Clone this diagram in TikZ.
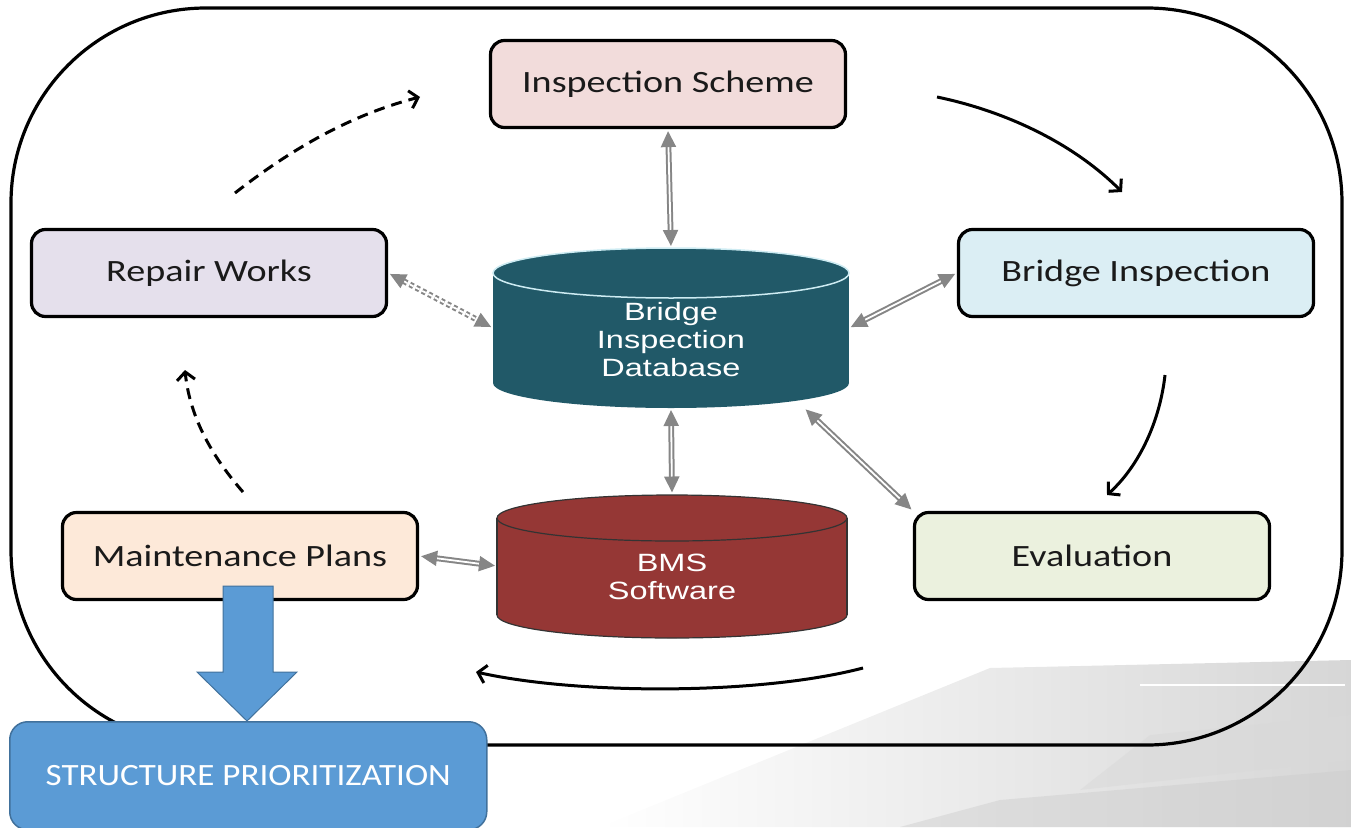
\documentclass[tikz,border=0pt]{standalone}
\usepackage{fontspec}
\usepackage{graphicx}
\setmainfont{Carlito}
\newfontfamily\arialf{Liberation Sans}
\usetikzlibrary{arrows.meta}
\definecolor{isfill}{HTML}{F2DCDB}
\definecolor{rwfill}{HTML}{E5E0EC}
\definecolor{bifill}{HTML}{DBEEF4}
\definecolor{mpfill}{HTML}{FDE9D9}
\definecolor{evfill}{HTML}{EBF1DE}
\definecolor{dbcol}{HTML}{215968}
\definecolor{dbedge}{HTML}{CDEBF2}
\definecolor{bmscol}{HTML}{953735}
\definecolor{linkgray}{HTML}{868686}
\definecolor{spblue}{HTML}{5B9BD5}
\definecolor{spedge}{HTML}{41719C}
\definecolor{txt}{HTML}{1A1A1A}
\newcommand{\bx}[1]{\scalebox{1.23}[1]{#1}}
\newcommand{\ax}[1]{\scalebox{1.3}[1]{#1}}
\newcommand{\spx}[1]{\scalebox{1.13}[1]{#1}}
\tikzset{
  box/.style={draw=black, line width=3.2pt, rounded corners=14pt, minimum width=355pt,
    minimum height=87pt, inner sep=0pt, text=txt, font=\fontsize{31}{37}\selectfont},
  anchorbox/.style={minimum width=#1, inner sep=0pt, outer sep=0pt},
  cyltext/.style={text=white, align=center, inner sep=0pt, font=\arialf\fontsize{25}{28}\selectfont},
  link/.style={draw=linkgray, double=white, double distance=1.8pt, line width=2pt,
    {Triangle[length=16pt,width=15pt]}-{Triangle[length=16pt,width=15pt]},
    shorten <=2pt, shorten >=2pt},
  flow/.style={line width=3pt, -{Straight Barb[length=8pt,width=18pt]}},
  dflow/.style={flow, dash pattern=on 11pt off 7pt},
}
\begin{document}
\begin{tikzpicture}[x=1pt,y=-1pt]
\useasboundingbox (0,0) rectangle (1351,827);
% faint bridge photograph in the background
\shade[left color=white, right color=gray!32] (990,668) -- (1351,660) -- (1351,827) -- (600,827) -- cycle;
\fill[gray!30, opacity=0.5] (1150,735) -- (1351,715) -- (1351,760) -- (1080,790) -- cycle;
\fill[gray!40, opacity=0.45] (1000,800) -- (1351,770) -- (1351,827) -- (900,827) -- cycle;
\draw[white, line width=1.2pt] (1140,685) -- (1345,685);
% frame
\draw[line width=3.2pt, rounded corners=195pt] (11,8) rectangle (1342,745);
% boxes
\node[box, fill=isfill] (is) at (668,84) {\bx{Inspection Scheme}};
\node[box, fill=rwfill] (rw) at (209,273) {\bx{Repair Works}};
\node[box, fill=bifill] (bi) at (1136,273) {\bx{Bridge Inspection}};
\node[box, fill=mpfill] (mp) at (240,556) {\bx{Maintenance Plans}};
\node[box, fill=evfill] (ev) at (1092,556) {\bx{Evaluation}};
% database cylinder
\fill[dbcol] (671,383) ellipse [x radius=178, y radius=25];
\fill[dbcol] (493,273) rectangle (849,383);
\filldraw[fill=dbcol, draw=dbedge, line width=1.5pt] (671,273) ellipse [x radius=178, y radius=25];
\node[anchorbox=356pt, minimum height=160pt] (db) at (671,328) {};
\node[cyltext] (dbt) at (671,340) {\ax{Bridge}\\\ax{Inspection}\\\ax{Database}};
% BMS cylinder
\filldraw[fill=bmscol, draw=black!80, line width=1.2pt] (672,615) ellipse [x radius=175, y radius=23];
\fill[bmscol] (497,518) rectangle (847,615);
\draw[black!80, line width=1.2pt] (497,518) -- (497,615) (847,518) -- (847,615);
\filldraw[fill=bmscol, draw=black!80, line width=1.2pt] (672,518) ellipse [x radius=175, y radius=23];
\node[anchorbox=350pt, minimum height=143pt] (bms) at (672,566) {};
\node[cyltext] (bmst) at (672,577) {\ax{BMS}\\\ax{Software}};
% gray links
\draw[link] (is.south) -- (db.north);
\draw[link, dash pattern=on 4pt off 3pt] (rw.east) -- (db.west);
\draw[link] (bi.west) -- (db.east);
\draw[link] (db.south) -- (bms.north);
\draw[link] (db.-31) -- (ev.north west);
\draw[link] (mp.east) -- (bms.west);
% cycle arrows
\coordinate (a1) at (235,193); \coordinate (a2) at (420,97);
\coordinate (b1) at (937,97);  \coordinate (b2) at (1122,192);
\coordinate (c1) at (1165,375); \coordinate (c2) at (1107,495);
\coordinate (d1) at (863,668); \coordinate (d2) at (476,672);
\coordinate (e1) at (243,492); \coordinate (e2) at (185,370);
\draw[dflow] (a1) .. controls (290,150) and (350,115) .. (a2);
\draw[flow] (b1) .. controls (1000,110) and (1070,140) .. (b2);
\draw[flow] (c1) .. controls (1160,420) and (1140,465) .. (c2);
\draw[flow] (d1) .. controls (760,695) and (580,695) .. (d2);
\draw[dflow] (e1) .. controls (215,460) and (190,420) .. (e2);
% structure prioritization
\node[draw=spedge, fill=spblue, line width=1.5pt, rounded corners=18pt, minimum width=477pt,
  minimum height=108pt, inner sep=0pt, anchor=north west, text=white,
  font=\fontsize{31}{37}\selectfont] (sp) at (9,721) {\spx{STRUCTURE PRIORITIZATION}};
\filldraw[fill=spblue, draw=spedge, line width=1pt] (223,586) -- (273,586) -- (273,672) -- (297,672)
  -- (sp.north -| 247,0) -- (197,672) -- (223,672) -- cycle;
\end{tikzpicture}
\end{document}
